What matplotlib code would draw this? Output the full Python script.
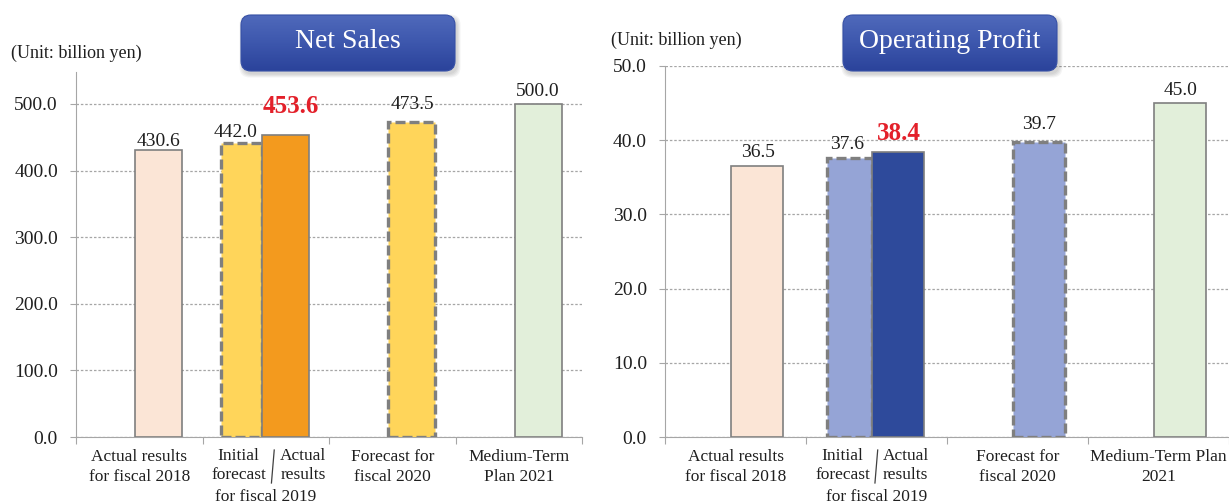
import numpy as np
import matplotlib
matplotlib.use('Agg')
import matplotlib.pyplot as plt
from matplotlib.patches import FancyBboxPatch
from matplotlib.lines import Line2D
from matplotlib.colors import LinearSegmentedColormap

plt.rcParams.update({
    'font.family': 'Liberation Serif',
    'text.color': '#1f1f1f',
})

# ── Data ─────────────────────────────────────────────────────────────
NS_VALUES = [430.6, 442.0, 453.6, 473.5, 500.0]
OP_VALUES = [36.5, 37.6, 38.4, 39.7, 45.0]
BAR_CAT = [0, 1, 1, 2, 3]
BAR_KIND = ["past", "initial", "actual", "forecast", "plan"]
HIGHLIGHT = 2

NS_CATS = [["Actual results", "for fiscal 2018"], None,
           ["Forecast for", "fiscal 2020"], ["Medium-Term", "Plan 2021"]]
OP_CATS = [["Actual results", "for fiscal 2018"], None,
           ["Forecast for", "fiscal 2020"], ["Medium-Term Plan", "2021"]]
FY19_LEFT = ["Initial", "forecast"]
FY19_RIGHT = ["Actual", "results"]
FY19_BOTTOM = "for fiscal 2019"

NS_YTICKS = [0, 100, 200, 300, 400, 500]
OP_YTICKS = [0, 10, 20, 30, 40, 50]

# ── Style ────────────────────────────────────────────────────────────
W, H = 1229, 504
GRAY = '#a6a6a6'
NS_COLORS = {"past": "#FBE5D6", "initial": "#FFD55A", "actual": "#F39A1E",
             "forecast": "#FFD55A", "plan": "#E2EFDA"}
OP_COLORS = {"past": "#FBE5D6", "initial": "#95A4D6", "actual": "#2E4A9B",
             "forecast": "#95A4D6", "plan": "#E2EFDA"}
SHIFT = {"past": 0.155, "initial": -0.19, "actual": 0.155, "forecast": 0.155, "plan": 0.155}
WIDTH = {"past": 0.37, "initial": 0.32, "actual": 0.37, "forecast": 0.37, "plan": 0.37}
NS_LBL_OFF = [(0, 4), (-6, 6), (5, 22), (1, 13), (-1, 8)]
OP_LBL_OFF = [(1, 9), (-3, 9), (1, 12), (0, 13), (0, 8)]

fig = plt.figure(figsize=(W / 100, H / 100), dpi=100)


def px_axes(x0, y_top, x1, y_bot):
    return fig.add_axes([x0 / W, 1 - y_bot / H, (x1 - x0) / W, (y_bot - y_top) / H])


def cat_lines(ax, x, lines, first=20, step=20):
    for k, s in enumerate(lines):
        ax.annotate(s, (x, 0), xycoords=('data', 'axes fraction'),
                    xytext=(0, -(first + step * k)), textcoords='offset pixels',
                    ha='center', va='center', fontsize=12.5, annotation_clip=False)


def draw_chart(ax, values, colors, cats, ymax, yticks, offs, fy19_x, sep_x):
    ax.set_xlim(-0.5, 3.5)
    ax.set_ylim(0, ymax)
    ax.set_yticks(yticks)
    ax.set_yticklabels([f"{t:.1f}" for t in yticks])
    ax.set_xticks([-0.5, 0.5, 1.5, 2.5, 3.5])
    ax.tick_params(axis='x', length=5, color=GRAY, labelbottom=False)
    ax.tick_params(axis='y', length=4, color=GRAY, labelsize=14, pad=9,
                   labelcolor='#1f1f1f')
    for s in ('top', 'right'):
        ax.spines[s].set_visible(False)
    for s in ('left', 'bottom'):
        ax.spines[s].set_color(GRAY)
    ax.set_axisbelow(True)
    ax.yaxis.grid(True, color=GRAY, lw=0.9, ls=(0, (2, 1.5)))

    for i, v in enumerate(values):
        kind = BAR_KIND[i]
        x = BAR_CAT[i] + SHIFT[kind]
        dashed = kind in ("initial", "forecast")
        ax.bar(x, v, width=WIDTH[kind], color=colors[kind], edgecolor='#7f7f7f',
               linewidth=2.4 if dashed else 1.2,
               linestyle=(0, (3, 1.2)) if dashed else '-', zorder=3)
        red = i == HIGHLIGHT
        dx, dy = offs[i]
        ax.annotate(f"{v:.1f}", (x, v), xytext=(dx, dy), textcoords='offset pixels',
                    ha='center', va='baseline',
                    fontsize=18 if red else 14,
                    fontweight='bold' if red else 'normal',
                    color='#E3202A' if red else '#1f1f1f', zorder=5)

    for c, lines in enumerate(cats):
        if lines:
            cat_lines(ax, c, lines)
    cat_lines(ax, fy19_x[0], FY19_LEFT, first=19, step=19)
    cat_lines(ax, fy19_x[1], FY19_RIGHT, first=19, step=19)
    cat_lines(ax, 1.0, [FY19_BOTTOM], first=60)
    h = ax.bbox.height
    ax.add_line(Line2D([sep_x[0], sep_x[1]], [-13 / h, -46 / h],
                       transform=ax.get_xaxis_transform(), color='#404040',
                       lw=0.9, clip_on=False))


def title_box(x0, y0, w, h, text):
    pad = 12
    bax = px_axes(x0 - pad, y0 - pad, x0 + w + pad, y0 + h + pad)
    bax.axis('off')
    for k in range(4):
        bax.add_patch(FancyBboxPatch((pad + 2, pad - 3), w, h,
                                     boxstyle=f'round,pad={k + 0.5},rounding_size=10',
                                     fc='black', ec='none', alpha=0.045))
    box = FancyBboxPatch((pad, pad), w, h, boxstyle='round,pad=0,rounding_size=10',
                         fc='none', ec='#3650a6', lw=0.8, zorder=3)
    bax.add_patch(box)
    cmap = LinearSegmentedColormap.from_list('tb', ['#2b439b', '#3d57ad', '#4f69bb'])
    im = bax.imshow(np.linspace(0, 1, 64).reshape(-1, 1), extent=(pad, pad + w, pad, pad + h),
                    origin='lower', cmap=cmap, aspect='auto', zorder=2)
    im.set_clip_path(box)
    bax.set_xlim(0, w + 2 * pad)
    bax.set_ylim(0, h + 2 * pad)
    bax.text(pad + w / 2, pad + h / 2 + 1, text, color='white', fontsize=20,
             ha='center', va='center', zorder=4)


ax1 = px_axes(76, 72, 582, 437)
draw_chart(ax1, NS_VALUES, NS_COLORS, NS_CATS, 548, NS_YTICKS, NS_LBL_OFF,
           (0.786, 1.294), (1.067, 1.045))

ax2 = px_axes(665, 66, 1229, 437)
draw_chart(ax2, OP_VALUES, OP_COLORS, OP_CATS, 50, OP_YTICKS, OP_LBL_OFF,
           (0.76, 1.208), (1.0085, 0.989))

fig.text(11 / W, 1 - 53 / H, "(Unit: billion yen)", va='center', fontsize=13)
fig.text(611 / W, 1 - 40 / H, "(Unit: billion yen)", va='center', fontsize=13)

title_box(241, 15, 214, 56, "Net Sales")
title_box(843, 15, 214, 56, "Operating Profit")

fig.savefig("out.png", dpi=100)
